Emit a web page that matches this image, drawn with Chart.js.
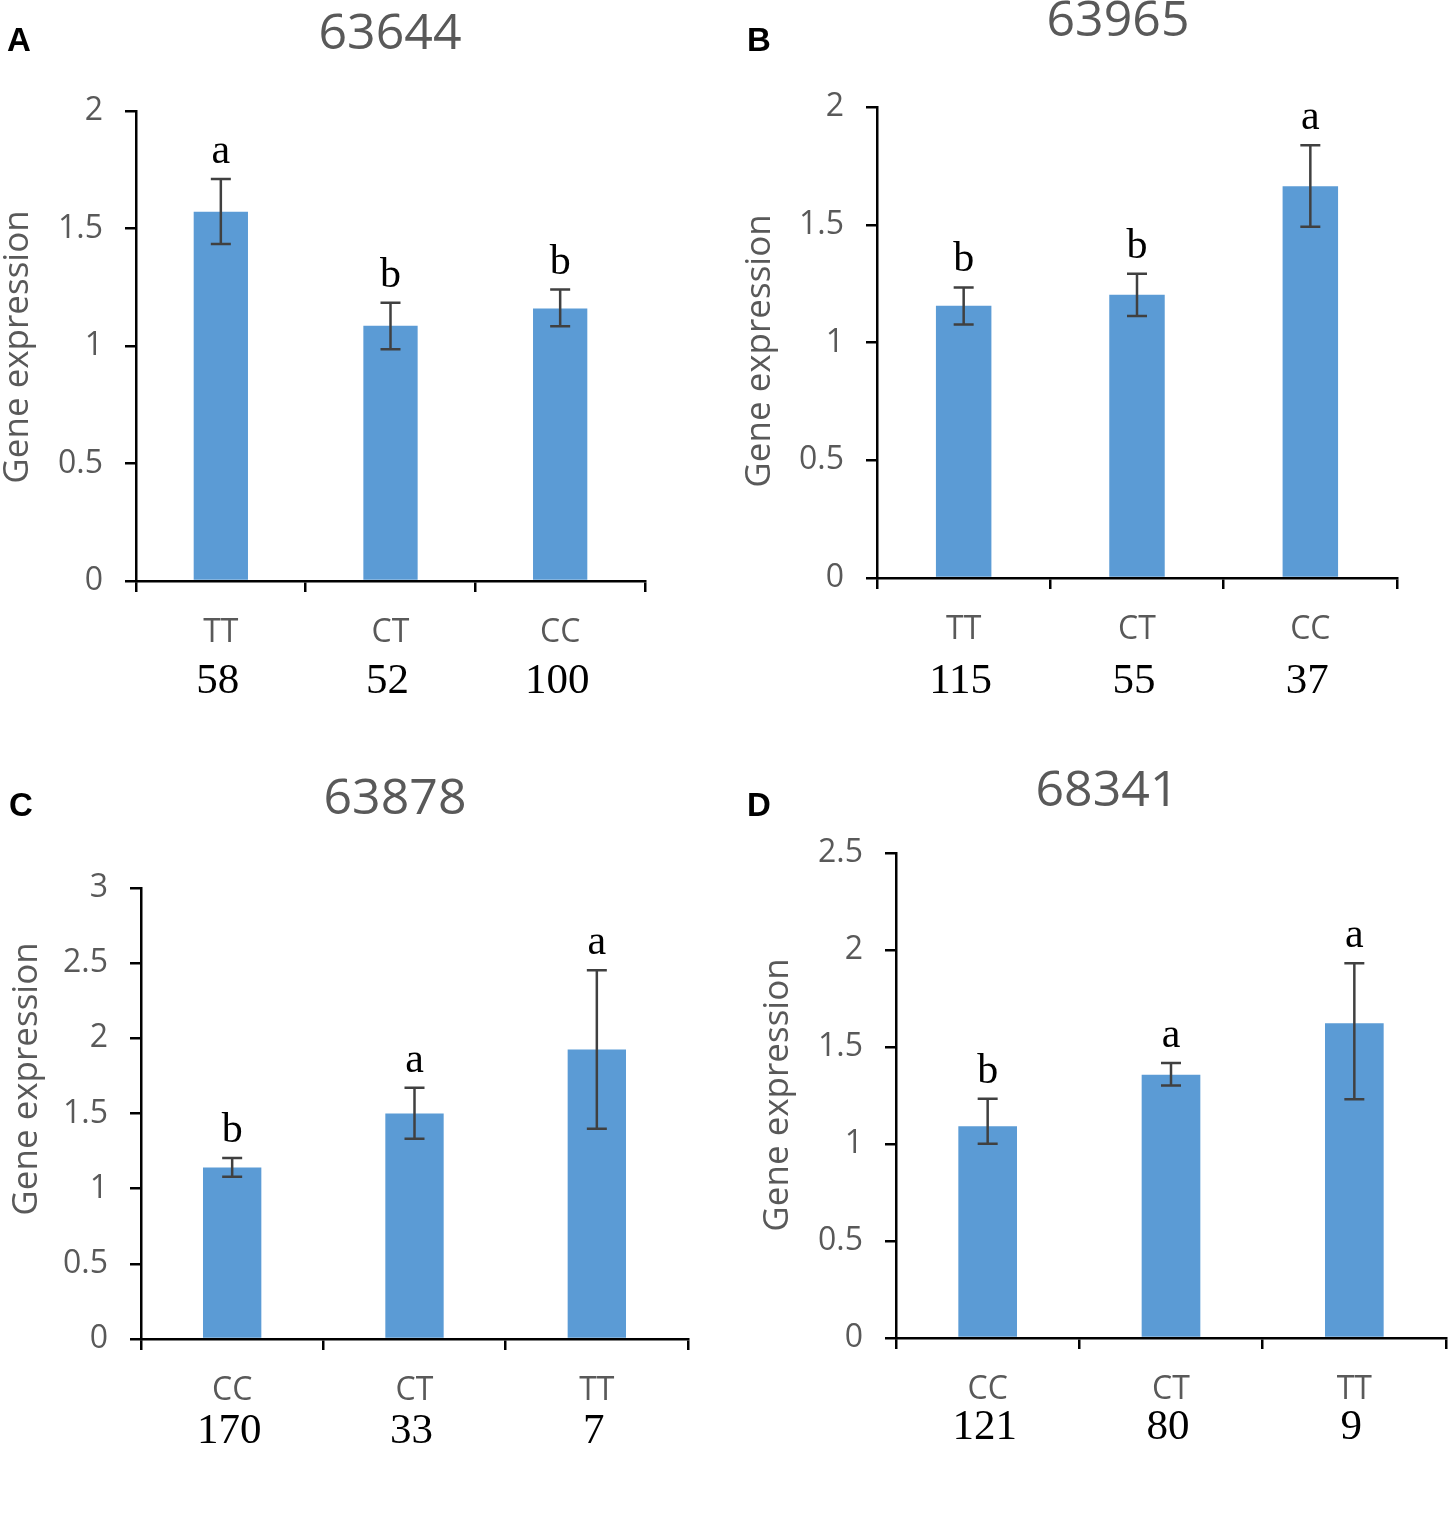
<!DOCTYPE html>
<html>
<head>
<meta charset="utf-8">
<script src="https://cdn.jsdelivr.net/npm/chart.js@4.4.1/dist/chart.umd.min.js"></script>
<style>
  body { margin: 0; background: #fff; }
  #page { position: relative; width: 1450px; height: 1527px; }
  canvas { position: absolute; }
</style>
</head>
<body>
<div id="page">
  <canvas id="pA" width="725" height="760" style="left:0;top:0"></canvas>
  <canvas id="pB" width="725" height="760" style="left:725px;top:0"></canvas>
  <canvas id="pC" width="725" height="767" style="left:0;top:760px"></canvas>
  <canvas id="pD" width="725" height="767" style="left:725px;top:760px"></canvas>
</div>
<script>
// data
const genes = ['63644', '63965', '63878', '68341'];
const panelLetters = ['A', 'B', 'C', 'D'];

const genotypesA = ['TT', 'CT', 'CC'];
const meansA = [1.571, 1.086, 1.160];
const upperA = [1.711, 1.184, 1.240];
const lowerA = [1.434, 0.986, 1.084];
const groupsA = ['a', 'b', 'b'];
const countsA = ['58', '52', '100'];

const genotypesB = ['TT', 'CT', 'CC'];
const meansB = [1.156, 1.203, 1.663];
const upperB = [1.234, 1.292, 1.838];
const lowerB = [1.076, 1.113, 1.491];
const groupsB = ['b', 'b', 'a'];
const countsB = ['115', '55', '37'];

const genotypesC = ['CC', 'CT', 'TT'];
const meansC = [1.140, 1.500, 1.925];
const upperC = [1.204, 1.671, 2.453];
const lowerC = [1.079, 1.332, 1.399];
const groupsC = ['b', 'a', 'a'];
const countsC = ['170', '33', '7'];

const genotypesD = ['CC', 'CT', 'TT'];
const meansD = [1.091, 1.357, 1.622];
const upperD = [1.233, 1.418, 1.932];
const lowerD = [1.001, 1.302, 1.231];
const groupsD = ['b', 'a', 'a'];
const countsD = ['121', '80', '9'];

const yMax = [2, 2, 3, 2.5];

// where each panel sits inside its canvas
const panels = [
  {id: 'pA', labels: genotypesA, means: meansA, upper: upperA, lower: lowerA, groups: groupsA, counts: countsA,
   box: {l: 136, r: 645, t: 111, b: 581}, titleAt: [390, 35], letterAt: [7, 51], yTitleAt: [18, 347], countDy: 101},
  {id: 'pB', labels: genotypesB, means: meansB, upper: upperB, lower: lowerB, groups: groupsB, counts: countsB,
   box: {l: 152, r: 672, t: 107, b: 578}, titleAt: [393, 22], letterAt: [22, 51], yTitleAt: [35, 351], countDy: 104},
  {id: 'pC', labels: genotypesC, means: meansC, upper: upperC, lower: lowerC, groups: groupsC, counts: countsC,
   box: {l: 141, r: 688, t: 128, b: 579}, titleAt: [395, 40], letterAt: [9, 56], yTitleAt: [27, 319], countDy: 93},
  {id: 'pD', labels: genotypesD, means: meansD, upper: upperD, lower: lowerD, groups: groupsD, counts: countsD,
   box: {l: 171, r: 721, t: 93, b: 578}, titleAt: [382, 32], letterAt: [22, 56], yTitleAt: [53, 335], countDy: 90}
];

const GREY = '#595959';
const SANS = "'Open Sans', sans-serif";
const SERIF = "'Liberation Serif', 'Times New Roman', serif";

function panelText(p, gene, letter) {
  return {
    id: 'panelText',
    afterDatasetsDraw(chart) {
      const {ctx, scales: {x, y}} = chart;
      ctx.save();
      ctx.strokeStyle = '#404040';
      ctx.lineWidth = 2.5;
      p.means.forEach(function(m, i) {
        const cx = x.getPixelForValue(i);
        const yt = y.getPixelForValue(p.upper[i]);
        const yb = y.getPixelForValue(p.lower[i]);
        ctx.beginPath();
        ctx.moveTo(cx, yt); ctx.lineTo(cx, yb);
        ctx.moveTo(cx - 10, yt); ctx.lineTo(cx + 10, yt);
        ctx.moveTo(cx - 10, yb); ctx.lineTo(cx + 10, yb);
        ctx.stroke();
        // significance letter
        ctx.fillStyle = '#000';
        ctx.font = '42px ' + SERIF;
        ctx.textAlign = 'center';
        ctx.textBaseline = 'alphabetic';
        ctx.fillText(p.groups[i], cx, yt - 16);
        // sample size
        ctx.font = '43px ' + SERIF;
        ctx.textBaseline = 'middle';
        ctx.fillText(p.counts[i], cx - 3, chart.chartArea.bottom + p.countDy);
      });
      ctx.restore();
    },
    afterDraw(chart) {
      const ctx = chart.ctx;
      ctx.save();
      ctx.fillStyle = GREY;
      ctx.font = '50px ' + SANS;
      ctx.textAlign = 'center';
      ctx.textBaseline = 'middle';
      ctx.fillText(gene, p.titleAt[0], p.titleAt[1]);

      ctx.fillStyle = '#000';
      ctx.font = "bold 33px 'Liberation Sans', Arial, sans-serif";
      ctx.textAlign = 'left';
      ctx.textBaseline = 'alphabetic';
      ctx.fillText(letter, p.letterAt[0], p.letterAt[1]);

      ctx.translate(p.yTitleAt[0], p.yTitleAt[1]);
      ctx.rotate(-Math.PI / 2);
      ctx.fillStyle = GREY;
      ctx.font = '35px ' + SANS;
      ctx.textAlign = 'center';
      ctx.textBaseline = 'middle';
      ctx.fillText('Gene expression', 0, 0);
      ctx.restore();
    }
  };
}

function makeChart(p, k) {
  const cv = document.getElementById(p.id);
  return new Chart(cv.getContext('2d'), {
    type: 'bar',
    data: {
      labels: p.labels,
      datasets: [{
        data: p.means,
        backgroundColor: '#5B9BD5',
        barPercentage: 0.32,
        categoryPercentage: 1
      }]
    },
    options: {
      responsive: false,
      animation: false,
      layout: {padding: {top: p.box.t, right: cv.width - p.box.r, left: 0, bottom: 0}},
      plugins: {legend: {display: false}, tooltip: {enabled: false}},
      scales: {
        x: {
          offset: true,
          grid: {offset: true, drawOnChartArea: false, drawTicks: true, tickLength: 11, color: '#000', lineWidth: 2.5},
          border: {color: '#000', width: 2.5},
          ticks: {color: GREY, font: {family: SANS, size: 32}, padding: 22, maxRotation: 0},
          afterFit: function(s) { s.height = cv.height - p.box.b; }
        },
        y: {
          min: 0,
          max: yMax[k],
          grid: {drawOnChartArea: false, drawTicks: true, tickLength: 11, color: '#000', lineWidth: 2.5},
          border: {color: '#000', width: 2.5},
          ticks: {stepSize: 0.5, color: GREY, font: {family: SANS, size: 32}, padding: 22,
                  callback: function(v) { return String(v); }},
          afterFit: function(s) { s.width = p.box.l; }
        }
      }
    },
    plugins: [panelText(p, genes[k], panelLetters[k])]
  });
}

panels.forEach(makeChart);
</script>
</body>
</html>
